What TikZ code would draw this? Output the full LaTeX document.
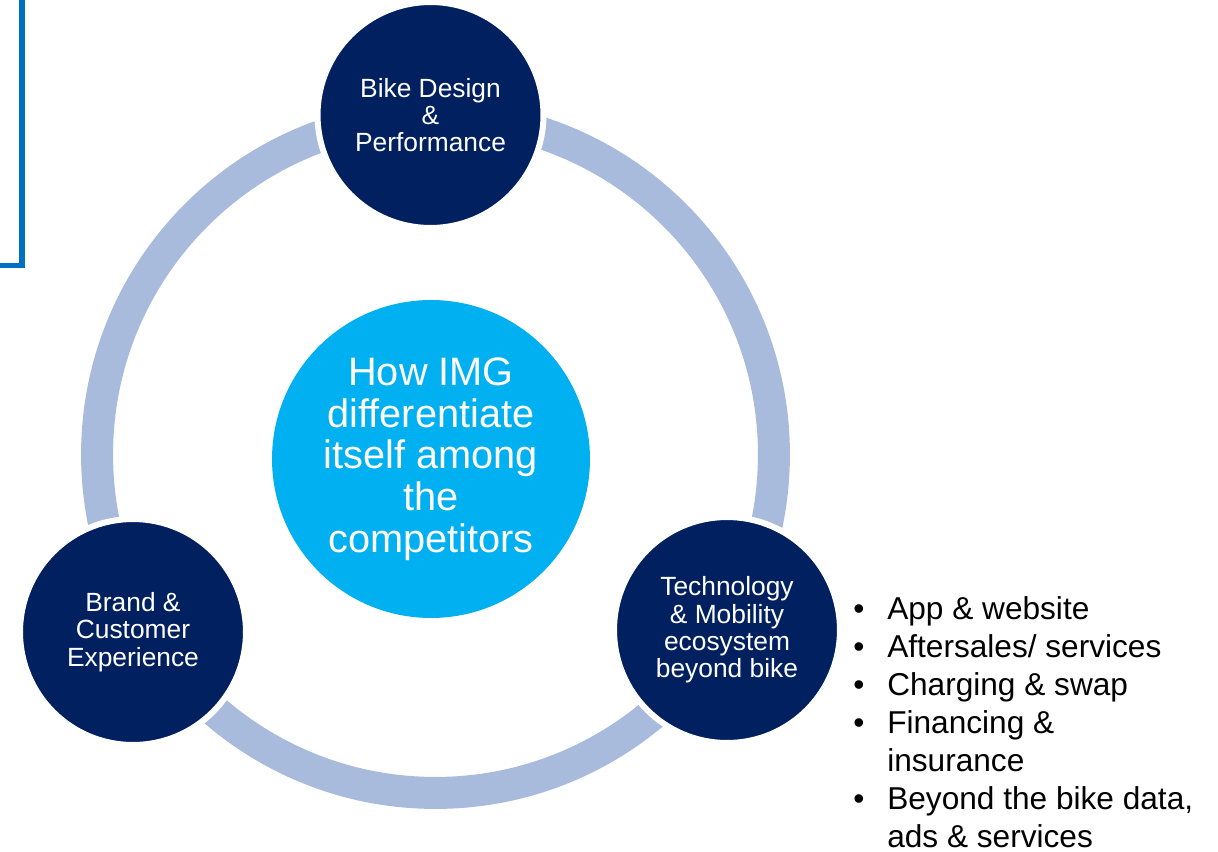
\documentclass[tikz,border=0pt]{standalone}
\usepackage{fontspec}
\setmainfont{Liberation Sans}[Ligatures=NoCommon]
\usepackage{tikz}
\definecolor{navy}{HTML}{002060}
\definecolor{ringblue}{HTML}{A9BBDD}
\definecolor{hubblue}{HTML}{00B0F0}
\definecolor{framblue}{HTML}{0070C0}

\begin{document}
\begin{tikzpicture}[x=0.02cm,y=-0.02cm,
  pillar/.style={circle,fill=navy,draw=white,line width=0.12cm,minimum size=4.52cm,inner sep=0pt,
    text=white,align=center,font=\fontsize{15}{15.5}\selectfont},
  hub/.style={circle,fill=hubblue,minimum size=6.36cm,inner sep=0pt,
    text=white,align=center,font=\fontsize{22.6}{23.7}\selectfont}]
\useasboundingbox (0,0) rectangle (1218,852);
\clip (0,0) rectangle (1218,852);
\draw[framblue,line width=0.115cm] (-10,265.5) -- (22,265.5) -- (22,-10);
\coordinate (o) at (435.5,454.5);
\draw[ringblue,line width=0.64cm] (o) circle (6.77cm);
\node[hub] (c0) at (431,459) {How IMG\\differentiate\\itself among\\the\\competitors};
\node[pillar] (c1) at (430.5,115) {Bike Design\\\&\\Performance};
\node[pillar] (c2) at (133,632) {Brand \&\\Customer\\Experience};
\node[pillar] (c3) at (727,630) {Technology\\\& Mobility\\ecosystem\\beyond bike};
\node[anchor=north west,inner sep=0pt,font=\fontsize{18}{21.7}\selectfont] (list) at (853,592)
 {\begin{tabular}{@{}p{19.3pt}@{}l@{}}
 \textbullet & App \& website\\
 \textbullet & Aftersales/ services\\
 \textbullet & Charging \& swap\\
 \textbullet & Financing \&\\
  & insurance\\
 \textbullet & Beyond the bike data,\\
  & ads \& services
 \end{tabular}};
\end{tikzpicture}
\end{document}
